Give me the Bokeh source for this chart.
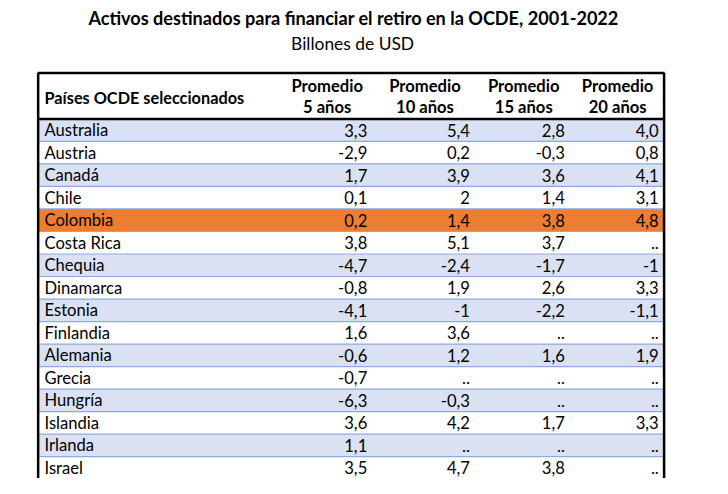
from bokeh.plotting import figure
from bokeh.models import ColumnDataSource, Range1d
from bokeh.core.properties import value
from bokeh.embed import file_html
from bokeh.resources import INLINE

title = "Activos destinados para financiar el retiro en la OCDE, 2001-2022"
subtitle = "Billones de USD"
row_header = "Países OCDE seleccionados"
col_headers_1 = ["Promedio", "Promedio", "Promedio", "Promedio"]
col_headers_2 = ["5 años", "10 años", "15 años", "20 años"]

countries = ["Australia", "Austria", "Canadá", "Chile", "Colombia", "Costa Rica",
             "Chequia", "Dinamarca", "Estonia", "Finlandia", "Alemania", "Grecia",
             "Hungría", "Islandia", "Irlanda", "Israel"]
avg5 = ["3,3", "-2,9", "1,7", "0,1", "0,2", "3,8", "-4,7", "-0,8", "-4,1", "1,6",
        "-0,6", "-0,7", "-6,3", "3,6", "1,1", "3,5"]
avg10 = ["5,4", "0,2", "3,9", "2", "1,4", "5,1", "-2,4", "1,9", "-1", "3,6",
         "1,2", "..", "-0,3", "4,2", "..", "4,7"]
avg15 = ["2,8", "-0,3", "3,6", "1,4", "3,8", "3,7", "-1,7", "2,6", "-2,2", "..",
         "1,6", "..", "..", "1,7", "..", "3,8"]
avg20 = ["4,0", "0,8", "4,1", "3,1", "4,8", "..", "-1", "3,3", "-1,1", "..",
         "1,9", "..", "..", "3,3", "..", ".."]
highlight = "Colombia"

FONT = "Lato"
BLUE = "#D9E1F2"
ORANGE = "#ED7D31"
SEP = "#8EA9DB"

# layout in reference-pixel space (728 x 494), drawn into a 712 x 478 figure
REF_W, REF_H = 728, 494
W, H = 712, 478
ROW_PX = 23.27
TOP_ROW_CENTER = 134.0
S = W / REF_W

def ry(screen_y):
    return (screen_y - TOP_ROW_CENTER) / ROW_PX

def fsz(px):
    return f"{px * S:.1f}px"

p = figure(width=W, height=H, output_backend="svg", toolbar_location=None,
           x_range=Range1d(0, REF_W), y_range=Range1d(ry(REF_H), ry(0)),
           min_border=0)
p.axis.visible = False
p.grid.visible = False
p.outline_line_color = None
p.background_fill_color = "white"

x_left, x_right = 39, 678
col_right = [375, 480, 577, 673]
col_center = [334, 434, 535, 631]

n = len(countries)
idx = list(range(n))
fills = [ORANGE if c == highlight else (BLUE if i % 2 == 0 else "white")
         for i, c in enumerate(countries)]
rows = ColumnDataSource(dict(y=idx, top=[i - 0.5 for i in idx], bottom=[i + 0.5 for i in idx],
                             fill=fills, country=countries,
                             a5=avg5, a10=avg10, a15=avg15, a20=avg20))

p.quad(left=x_left, right=x_right, top="top", bottom="bottom", fill_color="fill",
       line_color=None, source=rows)
# row separators
p.segment(x0=x_left, x1=x_right, y0="bottom", y1="bottom", line_color=SEP,
          line_width=1.2, source=rows)

# borders
p.segment(x0=[x_left - 1, x_left - 1], x1=[x_right + 1, x_right + 1],
          y0=[ry(75), -0.5], y1=[ry(75), -0.5],
          line_color="black", line_width=2.5)
p.segment(x0=[x_left - 0.5, x_right + 0.5], x1=[x_left - 0.5, x_right + 0.5],
          y0=[ry(75), ry(75)], y1=[n + 1, n + 1],
          line_color="black", line_width=2.5)

fs = fsz(17)
p.text(x=45, y="y", text="country", source=rows, text_font=value(FONT),
       text_font_size=fs, text_baseline="middle", text_align="left", text_color="black")
for xr, col in zip(col_right, ["a5", "a10", "a15", "a20"]):
    p.text(x=xr, y="y", text=col, source=rows, text_font=value(FONT),
           text_font_size=fs, text_baseline="middle", text_align="right", text_color="black")

# header
p.text(x=[45], y=[ry(100)], text=[row_header], text_font=value(FONT), text_font_size=fsz(16.7),
       text_font_style="bold", text_baseline="middle", text_align="left")
p.text(x=col_center, y=[ry(88)] * 4, text=col_headers_1, text_font=value(FONT),
       text_font_size=fsz(17), text_font_style="bold", text_baseline="middle", text_align="center")
p.text(x=col_center, y=[ry(110)] * 4, text=col_headers_2, text_font=value(FONT),
       text_font_size=fsz(17), text_font_style="bold", text_baseline="middle", text_align="center")

# title
p.text(x=[361], y=[ry(18)], text=[title], text_font=value(FONT), text_font_size=fsz(18.5),
       text_font_style="bold", text_baseline="middle", text_align="center")
p.text(x=[360], y=[ry(44)], text=[subtitle], text_font=value(FONT), text_font_size=fsz(17.8),
       text_baseline="middle", text_align="center")

open("out.html", "w").write(file_html(p, INLINE))
